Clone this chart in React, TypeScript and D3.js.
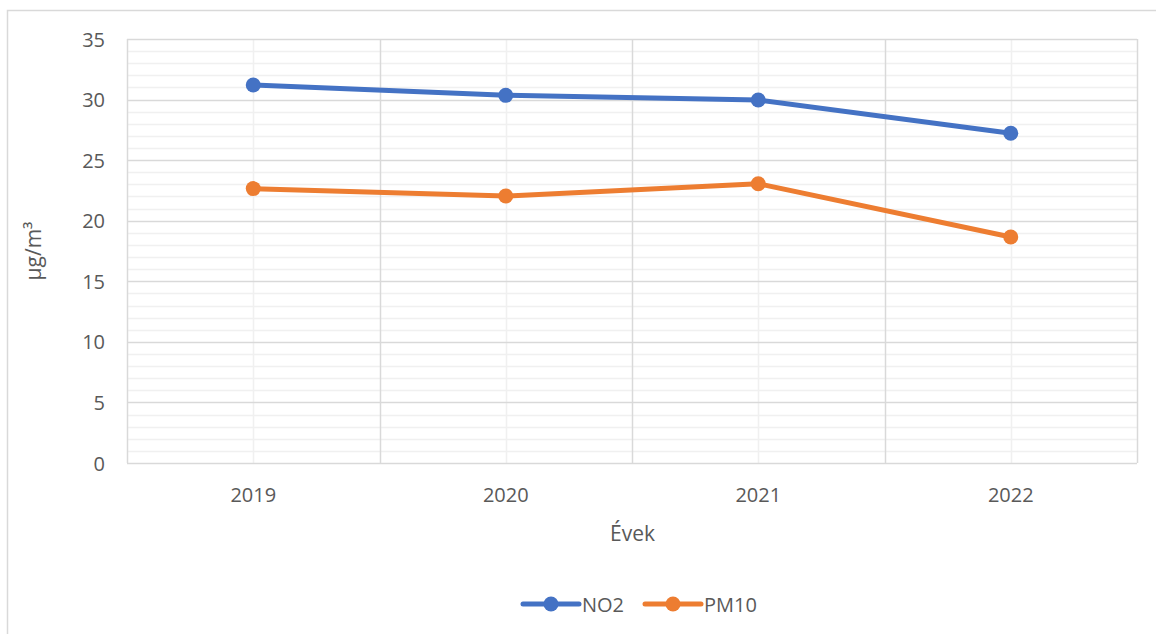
import React from "react";
import * as d3 from "d3";

const years = ["2019", "2020", "2021", "2022"];
const no2 = [31.2, 30.35, 29.97, 27.22];
const pm10 = [22.65, 22.04, 23.05, 18.66];
const yTicks = [0, 5, 10, 15, 20, 25, 30, 35];
const seriesNames = ["NO2", "PM10"];
const seriesColors = ["#4472C4", "#ED7D31"];

const W = 1156;
const H = 634;
const left = 127, right = 1137, top = 39, bottom = 463;
const font = "'Open Sans', 'Liberation Sans', sans-serif";

export default function App() {
  const x = d3.scaleBand().domain(years).range([left, right]).paddingInner(0).paddingOuter(0);
  const y = d3.scaleLinear().domain([0, 35]).range([bottom, top]);
  const minor = d3.range(0, 36, 1).filter((v) => v % 5 !== 0);
  const line = d3.line<number>().x((_, i) => x(years[i])! + x.bandwidth() / 2).y((d) => y(d));
  const series = [no2, pm10];
  const boundaries = years.map((yr) => x(yr)!).concat([right]);

  const legendItems = [
    { name: seriesNames[0], color: seriesColors[0], x0: 523 },
    { name: seriesNames[1], color: seriesColors[1], x0: 645 },
  ];

  return (
    <svg width={W} height={H} style={{ position: "absolute", left: 0, top: 0 }}>
      <rect x={0} y={0} width={W} height={H} fill="#fff" />
      <rect x={7.5} y={10.5} width={W + 20} height={H + 20} fill="#fff" stroke="#d9d9d9" strokeWidth={1.5} />
      {minor.map((v) => (
        <line key={"mn" + v} x1={left} x2={right} y1={Math.round(y(v)) + 0.5} y2={Math.round(y(v)) + 0.5} stroke="#f0f0f0" strokeWidth={1.5} />
      ))}
      {years.map((yr) => {
        const cx = Math.round(x(yr)! + x.bandwidth() / 2) + 0.5;
        return <line key={"vc" + yr} x1={cx} x2={cx} y1={top} y2={bottom} stroke="#f0f0f0" strokeWidth={1.5} />;
      })}
      {yTicks.map((v) => (
        <line key={"mj" + v} x1={left} x2={right} y1={Math.round(y(v)) + 0.5} y2={Math.round(y(v)) + 0.5} stroke="#d9d9d9" strokeWidth={1.5} />
      ))}
      {boundaries.map((bx, i) => (
        <line key={"vb" + i} x1={Math.round(bx) + 0.5} x2={Math.round(bx) + 0.5} y1={top} y2={bottom} stroke="#d9d9d9" strokeWidth={1.5} />
      ))}
      {yTicks.map((v) => (
        <text key={"yt" + v} x={left - 22} y={y(v) + 7.5} textAnchor="end" fontFamily={font} fontSize={20} fill="#595959">
          {v}
        </text>
      ))}
      {years.map((yr) => (
        <text key={"xt" + yr} x={x(yr)! + x.bandwidth() / 2} y={501.5} textAnchor="middle" fontFamily={font} fontSize={20} fill="#595959">
          {yr}
        </text>
      ))}
      <text x={632.5} y={541} textAnchor="middle" fontFamily={font} fontSize={21} fill="#595959">
        Évek
      </text>
      <text transform={`translate(41,${(top + bottom) / 2}) rotate(-90)`} textAnchor="middle" fontFamily={font} fontSize={21} fill="#595959">
        µg/m³
      </text>
      {series.map((s, si) => (
        <g key={"s" + si}>
          <path d={line(s) || ""} fill="none" stroke={seriesColors[si]} strokeWidth={5} strokeLinejoin="round" strokeLinecap="round" />
          {s.map((v, i) => (
            <circle key={i} cx={x(years[i])! + x.bandwidth() / 2} cy={y(v)} r={7.5} fill={seriesColors[si]} />
          ))}
        </g>
      ))}
      {legendItems.map((it) => (
        <g key={it.name}>
          <line x1={it.x0} x2={it.x0 + 56} y1={604} y2={604} stroke={it.color} strokeWidth={5} strokeLinecap="round" />
          <circle cx={it.x0 + 28} cy={604} r={7.5} fill={it.color} />
          <text x={it.x0 + 59} y={611.5} fontFamily={font} fontSize={20} fill="#595959">
            {it.name}
          </text>
        </g>
      ))}
    </svg>
  );
}
